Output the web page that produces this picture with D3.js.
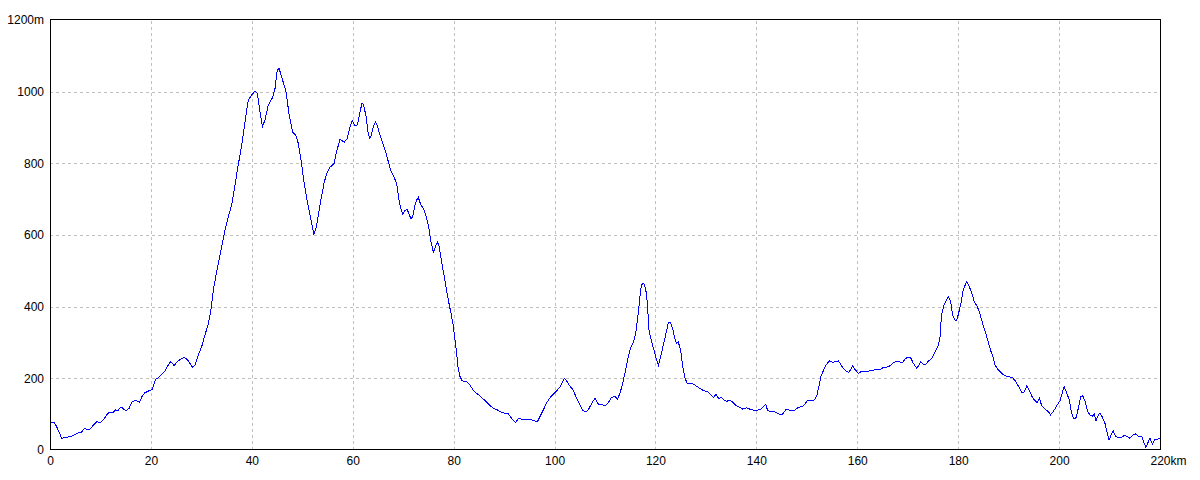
<!DOCTYPE html>
<html>
<head>
<meta charset="utf-8">
<script src="https://cdn.jsdelivr.net/npm/d3@7"></script>
<style>
  html, body { margin: 0; padding: 0; background: #fff; }
  svg { display: block; }
  .tick text { font-family: 'Liberation Sans Narrow', 'Liberation Sans', sans-serif; font-size: 12px; fill: #000; }
</style>
</head>
<body>
<svg id="chart" width="1200" height="480"></svg>
<script>
// distance along the route (km)
const distanceKm = [
  0.0, 0.2, 0.86, 1.32, 1.78, 2.31, 2.84, 3.96, 4.82, 5.62, 6.14, 6.8, 7.6, 8.1, 8.6, 9.25, 9.9,
  10.57, 11.23, 11.76, 12.55, 13.0, 13.4, 13.87, 14.3, 15.06, 15.66, 16.3, 17.0, 17.7, 18.3, 18.83,
  19.6, 20.28, 20.94, 21.47, 22.1, 22.8, 23.3, 23.9, 24.2, 24.6, 25.3, 25.96, 26.6, 27.1, 27.6,
  28.2, 28.74, 29.4, 30.06, 30.72, 31.38, 31.85, 32.37, 33.03, 33.7, 34.2, 34.7, 35.34, 36.0,
  36.67, 37.3, 38.0, 38.65, 39.3, 39.98, 40.63, 41.1, 41.6, 42.1, 42.6, 43.27, 44.1, 44.6, 45.05,
  45.4, 45.9, 46.78, 47.4, 48.1, 48.7, 49.2, 49.7, 50.34, 51.0, 51.67, 52.3, 52.7, 53.2, 53.7,
  54.3, 54.84, 55.5, 56.3, 56.8, 57.48, 58.3, 58.9, 59.46, 59.9, 60.45, 60.9, 61.3, 61.8, 62.1,
  62.6, 62.97, 63.3, 63.6, 64.1, 64.5, 64.9, 65.4, 66.06, 66.5, 67.05, 67.6, 68.2, 68.7, 69.17,
  69.6, 69.9, 70.36, 70.76, 71.15, 71.55, 71.9, 72.34, 72.7, 73.0, 73.5, 74.0, 74.46, 74.98,
  75.45, 75.97, 76.3, 76.77, 77.16, 77.6, 78.15, 78.6, 79.08, 79.5, 79.9, 80.2, 80.6, 80.9,
  81.26, 81.7, 82.6, 83.24, 83.9, 84.57, 85.2, 86.2, 87.07, 87.86, 88.66, 89.5, 90.2, 90.8, 91.5,
  92.3, 92.8, 93.5, 94.5, 95.5, 96.1, 96.6, 97.1, 97.77, 98.57, 99.4, 100.3, 101.1, 101.6, 101.9,
  102.4, 102.9, 103.6, 104.25, 104.9, 105.6, 106.2, 106.7, 107.36, 108.0, 108.7, 109.5, 110.1,
  110.8, 111.3, 112.0, 112.45, 112.97, 113.5, 114.1, 114.6, 115.1, 115.6, 116.1, 116.5, 116.8,
  117.1, 117.4, 117.8, 118.1, 118.4, 118.75, 119.26, 119.7, 120.1, 120.6, 121.0, 121.56, 122.1,
  122.56, 122.96, 123.4, 123.9, 124.2, 124.5, 125.0, 125.4, 125.86, 126.3, 127.2, 127.85, 128.8,
  129.5, 130.3, 131.0, 131.5, 132.0, 132.5, 133.1, 133.6, 134.0, 134.8, 135.2, 135.8, 136.4,
  137.3, 138.1, 138.7, 139.4, 140.06, 140.86, 141.4, 141.85, 142.2, 142.7, 143.4, 143.9, 144.6,
  145.2, 145.9, 146.3, 147.0, 147.7, 148.3, 149.0, 149.6, 150.1, 150.8, 151.5, 151.96, 152.4,
  152.8, 153.27, 153.8, 154.5, 155.1, 155.7, 156.25, 156.7, 157.2, 157.8, 158.3, 158.7, 159.1,
  159.55, 160.0, 160.2, 160.9, 162.2, 163.2, 163.9, 164.5, 165.2, 165.8, 166.5, 167.2, 167.6,
  168.1, 168.7, 169.1, 169.6, 170.25, 170.65, 171.1, 171.8, 172.2, 172.6, 173.1, 173.56, 174.1,
  174.75, 175.4, 176.1, 176.4, 176.7, 177.2, 177.6, 178.05, 178.5, 178.9, 179.36, 179.7, 180.0,
  180.55, 181.0, 181.7, 182.1, 182.7, 183.2, 183.8, 184.3, 184.85, 185.45, 185.96, 186.4, 186.9,
  187.3, 187.9, 188.8, 189.6, 190.7, 191.3, 191.9, 192.6, 193.0, 193.6, 194.1, 194.7, 195.4,
  195.7, 196.1, 196.55, 197.2, 197.9, 198.3, 198.85, 199.5, 200.2, 200.6, 201.0, 201.5, 202.0,
  202.5, 202.96, 203.4, 203.8, 204.3, 204.7, 205.1, 205.6, 206.1, 206.6, 207.0, 207.3, 207.7,
  208.1, 208.6, 209.1, 209.5, 209.9, 210.4, 210.7, 211.2, 211.7, 212.4, 212.9, 213.5, 214.04,
  214.6, 215.1, 215.7, 216.4, 216.8, 217.2, 217.7, 218.0, 218.5, 218.9, 219.5, 219.8, 220.0
];
// elevation (m)
const elevationM = [
  60, 76, 76, 65, 51, 32, 35, 37, 42, 48, 48, 60, 56, 60, 70, 79, 76,
  84, 98, 105, 105, 112, 109, 118, 118, 109, 116, 135, 138, 133, 151, 160,
  165, 169, 197, 202, 211, 221, 234, 246, 243, 235, 248, 254, 258, 254, 245,
  231, 237, 265, 288, 321, 353, 386, 446, 498, 544, 581, 614, 651, 684,
  740, 795, 851, 916, 977, 991, 1002, 995, 944, 902, 921, 963, 983, 1009, 1060,
  1065, 1042, 1000, 935, 887, 879, 856, 814, 749, 693, 647, 603, 617, 656, 698,
  744, 772, 789, 800, 833, 867, 859, 868, 902, 919, 904, 907, 932, 967, 965,
  935, 893, 870, 874, 902, 916, 904, 879, 851, 833, 805, 777, 761, 744, 698,
  670, 659, 668, 672, 659, 645, 651, 684, 698, 705, 684, 674, 656, 628,
  586, 552, 563, 581, 567, 526, 484, 446, 409, 380, 350, 316, 270, 228,
  205, 193, 191, 181, 167, 158, 151, 138, 126, 116, 112, 105, 102, 102, 88,
  76, 88, 86, 86, 84, 81, 79, 93, 112, 135, 151, 163, 177, 189, 200,
  193, 181, 169, 149, 130, 110, 106, 112, 130, 144, 128, 126, 123,
  135, 147, 149, 142, 158, 186, 223, 259, 287, 299, 326, 372, 409,
  451, 465, 463, 446, 409, 330, 302, 279, 256, 237, 259, 293, 326,
  355, 355, 340, 307, 298, 302, 279, 233, 200, 186, 186, 181, 172,
  166, 163, 153, 147, 155, 144, 147, 140, 136, 138, 135, 126, 121,
  114, 118, 114, 111, 110, 114, 121, 127, 112, 107, 108, 104, 100,
  100, 114, 112, 109, 112, 119, 121, 127, 138, 137, 140, 151, 177,
  205, 221, 237, 249, 245, 246, 249, 240, 228, 220, 217, 225, 235,
  225, 217, 214, 220, 220, 223, 226, 223, 231, 231, 235, 244, 246,
  248, 244, 246, 256, 259, 256, 242, 228, 237, 246, 239, 239, 248,
  256, 274, 293, 316, 377, 405, 417, 428, 414, 377, 363, 361, 377,
  409, 448, 470, 460, 437, 414, 400, 381, 353, 326, 302, 279, 260,
  237, 225, 212, 205, 203, 193, 179, 160, 160, 179, 166, 147, 135,
  132, 144, 124, 114, 107, 98, 107, 123, 138, 158, 177, 160, 140,
  102, 86, 91, 116, 149, 151, 138, 110, 98, 95, 100, 82, 95,
  104, 91, 74, 51, 28, 45, 54, 39, 35, 35, 41, 37, 33,
  42, 45, 39, 37, 20, 8, 23, 33, 17, 28, 30, 33, 33
];
// tick values
const xTicks = [0, 20, 40, 60, 80, 100, 120, 140, 160, 180, 200, 220];
const yTicks = [0, 200, 400, 600, 800, 1000, 1200];
const xUnit = "km";
const yUnit = "m";

const W = 1200, H = 480;
const margin = { top: 20, right: 40, bottom: 30, left: 50 };
const innerW = W - margin.left - margin.right;
const innerH = H - margin.top - margin.bottom;

const svg = d3.select("#chart");
const g = svg.append("g").attr("transform", `translate(${margin.left},${margin.top})`);

const x = d3.scaleLinear().domain([0, 220]).range([0, innerW]);
const y = d3.scaleLinear().domain([0, 1200]).range([innerH, 0]);

// grid
const gridX = g.append("g").attr("transform", `translate(0,${innerH})`)
  .call(d3.axisBottom(x).tickValues(xTicks.filter(d => d > 0 && d < 220)).tickSize(-innerH).tickFormat(""));
gridX.select(".domain").remove();
gridX.selectAll("line").attr("stroke", "#c0c0c0").attr("stroke-dasharray", "3,3").attr("shape-rendering", "crispEdges");

const gridY = g.append("g")
  .call(d3.axisLeft(y).tickValues(yTicks.filter(d => d > 0 && d < 1200)).tickSize(-innerW).tickFormat(""));
gridY.select(".domain").remove();
gridY.selectAll("line").attr("stroke", "#c0c0c0").attr("stroke-dasharray", "3,3").attr("shape-rendering", "crispEdges");

// line
const data = distanceKm.map((d, i) => ({ km: d, m: elevationM[i] }));
g.append("path")
  .datum(data)
  .attr("fill", "none")
  .attr("stroke", "#0000ff")
  .attr("stroke-width", 1)
  .attr("shape-rendering", "crispEdges")
  .attr("d", d3.line().x(d => x(d.km)).y(d => y(d.m)));

// frame
g.append("rect")
  .attr("x", 0.5).attr("y", -0.5)
  .attr("width", innerW).attr("height", innerH)
  .attr("fill", "none").attr("stroke", "#000").attr("stroke-width", 1)
  .attr("shape-rendering", "crispEdges");

// axes labels
const ax = g.append("g").attr("transform", `translate(0,${innerH})`)
  .call(d3.axisBottom(x).tickValues(xTicks).tickSize(0).tickPadding(6).tickFormat(d => d));
ax.select(".domain").remove();
const lastX = ax.selectAll(".tick text").filter(d => d === 220);
const lw = lastX.node().getComputedTextLength();
lastX.attr("text-anchor", "start").attr("x", -lw / 2).append("tspan").text(xUnit);

const ay = g.append("g")
  .call(d3.axisLeft(y).tickValues(yTicks).tickSize(0).tickPadding(6).tickFormat(d => d === 1200 ? d + yUnit : d));
ay.select(".domain").remove();
</script>
</body>
</html>
